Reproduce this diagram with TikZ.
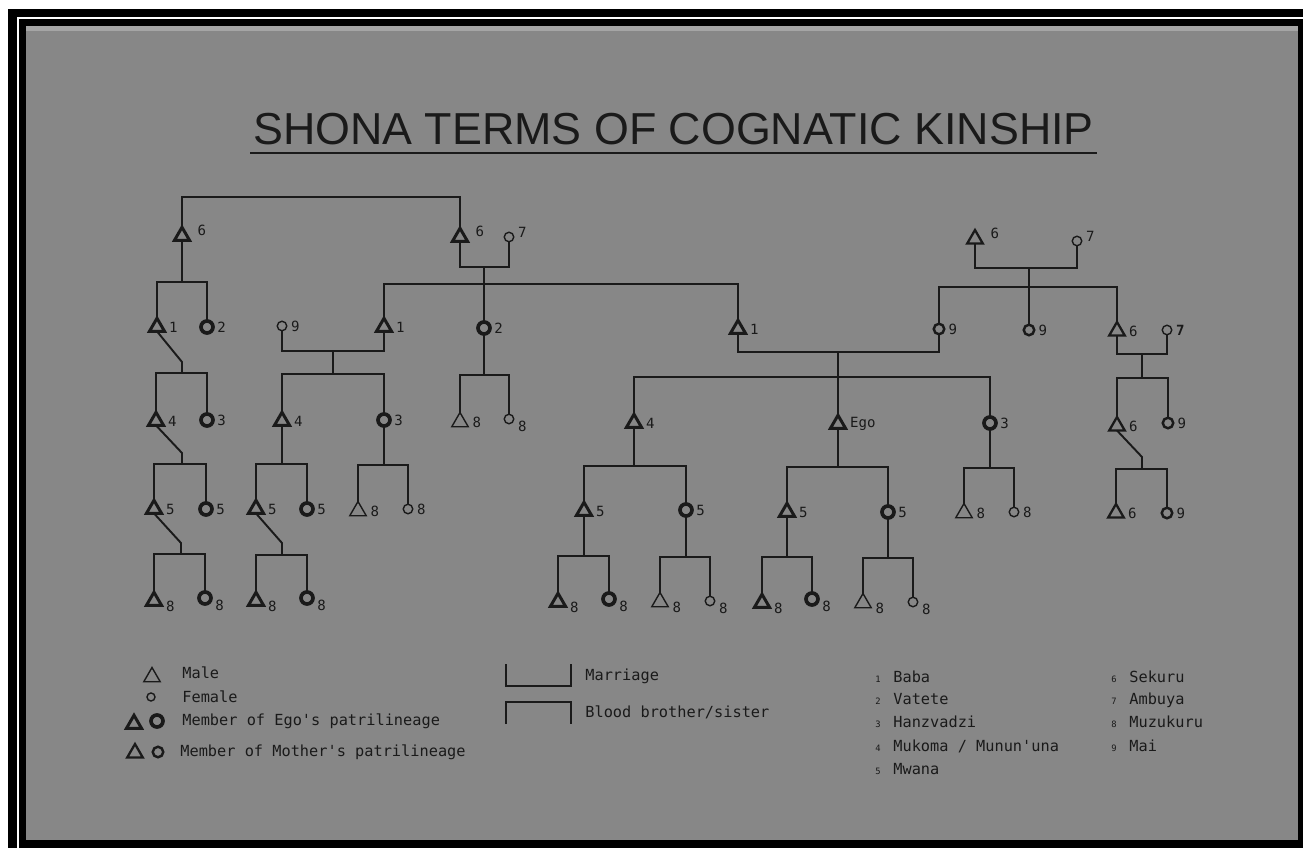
\documentclass[tikz,border=0pt]{standalone}
\usepackage{fontspec}
\newfontfamily\letfont{DejaVu Sans Mono}
\newfontfamily\headfont{Liberation Sans}
\usetikzlibrary{shapes.geometric}
\definecolor{ink}{HTML}{1A1A1A}
\definecolor{paper}{HTML}{878787}
\tikzset{
  conn/.style={draw=ink, line width=1.1pt},
  kin/.style={draw=ink, inner sep=0pt, outer sep=0pt},
  male/.style={kin, regular polygon, regular polygon sides=3},
  female/.style={kin, circle},
  patM/.style={male, line width=1.7pt, minimum size=0.35cm},
  matM/.style={male, line width=1.3pt, minimum size=0.36cm},
  outM/.style={male, line width=0.8pt, minimum size=0.38cm},
  patF/.style={female, line width=2.1pt, minimum size=0.24cm},
  matF/.style={female, line width=1.4pt, minimum size=0.21cm},
  outF/.style={female, line width=0.8pt, minimum size=0.19cm},
  lab/.style={shape=rectangle, draw=none, fill=none, inner sep=0pt, outer sep=0pt,
    minimum size=0pt, text=ink, font=\letfont\fontsize{8}{9}\selectfont},
  tR/.style={label={[lab,anchor=west,xshift=4pt]east:#1}},
  tU/.style={label={[lab,anchor=south west,xshift=6pt]east:#1}},
  tD/.style={label={[lab,anchor=north west,xshift=4pt]east:#1}},
  cR/.style={label={[lab,anchor=west,xshift=2.5pt]east:#1}},
  cU/.style={label={[lab,anchor=south west,xshift=2.5pt]east:#1}},
  cD/.style={label={[lab,anchor=north west,xshift=2.5pt,yshift=-1pt]east:#1}},
  legtext/.style={text=ink, anchor=base west, inner sep=0pt, font=\letfont\fontsize{8.7}{10}\selectfont},
  legnum/.style={text=ink, anchor=base, inner sep=0pt, font=\letfont\fontsize{5}{6}\selectfont}
}

\begin{document}
\begin{tikzpicture}[x=0.02cm, y=-0.02cm]
    \useasboundingbox (0,0) rectangle (1303,848);
    \fill[white] (0,0) rectangle (1303,848);
    \fill[black] (8,9) rectangle (1303,848);
    \draw[white, line width=1.4pt] (18,848) -- (18,18) -- (1303,18);
    \fill[paper] (26,26) rectangle (1298,840);
    \fill[paper!75!white] (26,26) rectangle (1298,31);

    \node[text=ink, anchor=base, inner sep=0pt, font=\headfont\fontsize{25.5}{30}\selectfont] (title) at (673.5,145) {SHONA TERMS OF COGNATIC KINSHIP};
    \draw[ink, line width=1.7pt] (250,153) -- (1097,153);

    % generation of the grandparents
    \node[patM, tU=6] (A6L) at (182,236) {};
    \node[patM, tU=6] (A6M) at (460,237) {};
    \node[outF, cU=7] (A7M) at (509,237) {};
    \node[matM, tU=6] (A6R) at (975,239) {};
    \node[outF, cU=7] (A7R) at (1077,241) {};

    % generation of the parents
    \node[patM, tR=1] (B1a) at (157,327) {};
    \node[patF, cR=2] (B2a) at (207,327) {};
    \node[outF, cR=9] (B9) at (282,326) {};
    \node[patM, tR=1] (B1b) at (384,327) {};
    \node[patF, cR=2] (B2b) at (484,328) {};
    \node[patM, tR=1] (B1c) at (738,329) {};
    \node[matF, cR=9] (B9a) at (939,329) {};
    \node[matF, cR=9] (B9b) at (1029,330) {};
    \node[matM, tR=6] (B6) at (1117,331) {};
    \node[outF, cR=\textbf{7}] (B7) at (1167,330) {};

    % generation of Ego
    \node[patM, tR=4] (C4a) at (156,421) {};
    \node[patF, cR=3] (C3a) at (207,420) {};
    \node[patM, tR=4] (C4b) at (282,421) {};
    \node[patF, cR=3] (C3b) at (384,420) {};
    \node[outM, tR=8] (C8a) at (460,422) {};
    \node[outF, cD=8] (C8b) at (509,419) {};
    \node[patM, tR=4] (C4c) at (634,423) {};
    \node[patM, tR=Ego] (CEgo) at (838,424) {};
    \node[patF, cR=3] (C3c) at (990,423) {};
    \node[matM, tR=6] (C6) at (1117,426) {};
    \node[matF, cR=9] (C9) at (1168,423) {};

    % generation of the children
    \node[patM, tR=5] (D5a) at (154,509) {};
    \node[patF, cR=5] (D5b) at (206,509) {};
    \node[patM, tR=5] (D5c) at (256,509) {};
    \node[patF, cR=5] (D5d) at (307,509) {};
    \node[outM, tR=8] (D8a) at (358,511) {};
    \node[outF, cR=8] (D8b) at (408,509) {};
    \node[patM, tR=5] (D5e) at (584,511) {};
    \node[patF, cR=5] (D5f) at (686,510) {};
    \node[patM, tR=5] (D5g) at (787,512) {};
    \node[patF, cR=5] (D5h) at (888,512) {};
    \node[outM, tR=8] (D8c) at (964,513) {};
    \node[outF, cR=8] (D8d) at (1014,512) {};
    \node[matM, tR=6] (D6) at (1116,513) {};
    \node[matF, cR=9] (D9) at (1167,513) {};

    % generation of the grandchildren
    \node[patM, tD=8] (E8a) at (154,601) {};
    \node[patF, cD=8] (E8b) at (205,598) {};
    \node[patM, tD=8] (E8c) at (256,601) {};
    \node[patF, cD=8] (E8d) at (307,598) {};
    \node[patM, tD=8] (E8e) at (558,602) {};
    \node[patF, cD=8] (E8f) at (609,599) {};
    \node[outM, tD=8] (E8g) at (660,602) {};
    \node[outF, cD=8] (E8h) at (710,601) {};
    \node[patM, tD=8] (E8i) at (762,603) {};
    \node[patF, cD=8] (E8j) at (812,599) {};
    \node[outM, tD=8] (E8k) at (863,603) {};
    \node[outF, cD=8] (E8l) at (913,602) {};

    \coordinate (t0) at (321,197);
    \coordinate (s1) at (182,282);
    \coordinate (m1) at (484,267);
    \coordinate (s2) at (484,284);
    \coordinate (k1) at (182,362);
    \coordinate (s3) at (182,373);
    \coordinate (m2) at (333,351);
    \coordinate (s4) at (333,374);
    \coordinate (s5) at (484,375);
    \coordinate (m3) at (838,352);
    \coordinate (s6) at (838,377);
    \coordinate (m4) at (1029,268);
    \coordinate (s7) at (1029,287);
    \coordinate (m5) at (1142,354);
    \coordinate (s8) at (1142,378);
    \coordinate (k2) at (182,453);
    \coordinate (s9) at (182,464);
    \coordinate (s10) at (282,464);
    \coordinate (s11) at (384,465);
    \coordinate (s12) at (634,466);
    \coordinate (s13) at (838,467);
    \coordinate (s14) at (990,468);
    \coordinate (k3) at (1142,457);
    \coordinate (s15) at (1142,469);
    \coordinate (k4) at (181,543);
    \coordinate (s16) at (181,554);
    \coordinate (k5) at (282,543);
    \coordinate (s17) at (282,555);
    \coordinate (s18) at (584,556);
    \coordinate (s19) at (686,557);
    \coordinate (s20) at (787,557);
    \coordinate (s21) at (888,558);

    \draw[conn] (A6L.north) |- (t0) -| (A6M.north);
    \draw[conn] (A6L.south) -- (s1);
    \draw[conn] (B1a.north) |- (s1) -| (B2a.north);
    \draw[conn] (A6M.south) |- (m1) -| (A7M.south);
    \draw[conn] (m1) -- (B2b.north);
    \draw[conn] (B1b.north) |- (s2) -| (B1c.north);
    \draw[conn] (B1a.south) -- (k1) -- (s3);
    \draw[conn] (C4a.north) |- (s3) -| (C3a.north);
    \draw[conn] (B9.south) |- (m2) -| (B1b.south);
    \draw[conn] (m2) -- (s4);
    \draw[conn] (C4b.north) |- (s4) -| (C3b.north);
    \draw[conn] (B2b.south) -- (s5);
    \draw[conn] (C8a.north) |- (s5) -| (C8b.north);
    \draw[conn] (B1c.south) |- (m3) -| (B9a.south);
    \draw[conn] (m3) -- (CEgo.north);
    \draw[conn] (C4c.north) |- (s6) -| (C3c.north);
    \draw[conn] (A6R.south) |- (m4) -| (A7R.south);
    \draw[conn] (m4) -- (B9b.north);
    \draw[conn] (B9a.north) |- (s7) -| (B6.north);
    \draw[conn] (B6.south) |- (m5) -| (B7.south);
    \draw[conn] (m5) -- (s8);
    \draw[conn] (C6.north) |- (s8) -| (C9.north);
    \draw[conn] (C4a.south) -- (k2) -- (s9);
    \draw[conn] (D5a.north) |- (s9) -| (D5b.north);
    \draw[conn] (C4b.south) -- (s10);
    \draw[conn] (D5c.north) |- (s10) -| (D5d.north);
    \draw[conn] (C3b.south) -- (s11);
    \draw[conn] (D8a.north) |- (s11) -| (D8b.north);
    \draw[conn] (C4c.south) -- (s12);
    \draw[conn] (D5e.north) |- (s12) -| (D5f.north);
    \draw[conn] (CEgo.south) -- (s13);
    \draw[conn] (D5g.north) |- (s13) -| (D5h.north);
    \draw[conn] (C3c.south) -- (s14);
    \draw[conn] (D8c.north) |- (s14) -| (D8d.north);
    \draw[conn] (C6.south) -- (k3) -- (s15);
    \draw[conn] (D6.north) |- (s15) -| (D9.north);
    \draw[conn] (D5a.south) -- (k4) -- (s16);
    \draw[conn] (E8a.north) |- (s16) -| (E8b.north);
    \draw[conn] (D5c.south) -- (k5) -- (s17);
    \draw[conn] (E8c.north) |- (s17) -| (E8d.north);
    \draw[conn] (D5e.south) -- (s18);
    \draw[conn] (E8e.north) |- (s18) -| (E8f.north);
    \draw[conn] (D5f.south) -- (s19);
    \draw[conn] (E8g.north) |- (s19) -| (E8h.north);
    \draw[conn] (D5g.south) -- (s20);
    \draw[conn] (E8i.north) |- (s20) -| (E8j.north);
    \draw[conn] (D5h.south) -- (s21);
    \draw[conn] (E8k.north) |- (s21) -| (E8l.north);

    % key
    \node[outM] (keyM) at (152,677) {};
    \node[legtext] (keyMt) at (182,678) {Male};
    \node[outF, minimum size=0.16cm] (keyF) at (151,697) {};
    \node[legtext] (keyFt) at (182,702) {Female};
    \node[patM] (keyEM) at (134,724) {};
    \node[patF] (keyEF) at (157,721) {};
    \node[legtext] (keyEt) at (182,725) {Member of Ego's patrilineage};
    \node[matM] (keyTM) at (135,753) {};
    \node[matF] (keyTF) at (158,752) {};
    \node[legtext] (keyTt) at (180,756) {Member of Mother's patrilineage};

    \draw[conn] (506,664) |- (571,686) -- (571,664);
    \node[legtext] (keyMar) at (585,680) {Marriage};
    \draw[conn] (506,724) |- (571,702) -- (571,724);
    \node[legtext] (keyBl) at (585,717) {Blood brother/sister};

    \node[legnum] (n1) at (878,682) {1};
    \node[legtext] (w1) at (893,682) {Baba};
    \node[legnum] (n2) at (878,704) {2};
    \node[legtext] (w2) at (893,704) {Vatete};
    \node[legnum] (n3) at (878,727) {3};
    \node[legtext] (w3) at (893,727) {Hanzvadzi};
    \node[legnum] (n4) at (878,751) {4};
    \node[legtext] (w4) at (893,751) {Mukoma / Munun'una};
    \node[legnum] (n5) at (878,774) {5};
    \node[legtext] (w5) at (893,774) {Mwana};
    \node[legnum] (n6) at (1114,682) {6};
    \node[legtext] (w6) at (1129,682) {Sekuru};
    \node[legnum] (n7) at (1114,704) {7};
    \node[legtext] (w7) at (1129,704) {Ambuya};
    \node[legnum] (n8) at (1114,727) {8};
    \node[legtext] (w8) at (1129,727) {Muzukuru};
    \node[legnum] (n9) at (1114,751) {9};
    \node[legtext] (w9) at (1129,751) {Mai};
\end{tikzpicture}
\end{document}
